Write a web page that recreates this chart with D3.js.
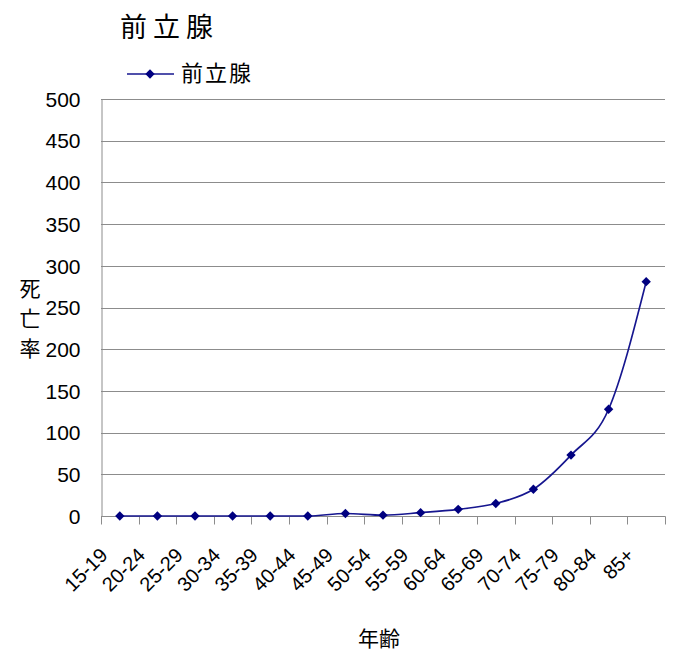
<!DOCTYPE html>
<html>
<head>
<meta charset="utf-8">
<script src="https://cdn.jsdelivr.net/npm/d3@7/dist/d3.min.js"></script>
<style>
  html, body { margin: 0; padding: 0; background: #fff; }
  svg { display: block; }
  text { font-family: Arial, "Liberation Sans", "Noto Sans CJK JP", sans-serif; fill: #000; }
  .cjk { font-family: "Noto Sans CJK JP", "Noto Sans CJK SC", sans-serif; }
</style>
</head>
<body>
<script>
// Prostate cancer death rate by age group
const title = "前立腺";
const seriesName = "前立腺";
const ageGroups = ["15-19", "20-24", "25-29", "30-34", "35-39", "40-44", "45-49",
  "50-54", "55-59", "60-64", "65-69", "70-74", "75-79", "80-84", "85+"];
const deathRates = [0, 0, 0, 0, 0, 0, 3, 1, 4, 8, 15, 32, 73, 128, 281];
const yTicks = [0, 50, 100, 150, 200, 250, 300, 350, 400, 450, 500];
const yLabel = ["死", "亡", "率"];
const xLabel = "年齢";

const W = 677, H = 651;
const plot = { left: 101, right: 665, top: 99, bottom: 516 };

const svg = d3.select("body").append("svg").attr("width", W).attr("height", H);

const x = d3.scaleBand().domain(ageGroups).range([plot.left, plot.right]).padding(0);
const y = d3.scaleLinear().domain([0, 500]).range([plot.bottom, plot.top]);

const grey = "#8c8c8c";
const navy = "#000080";

// horizontal gridlines
svg.append("g").selectAll("line").data(yTicks.filter(d => d > 0)).join("line")
  .attr("x1", plot.left).attr("x2", plot.right)
  .attr("y1", d => Math.round(y(d)) + 0.5).attr("y2", d => Math.round(y(d)) + 0.5)
  .attr("stroke", grey).attr("stroke-width", 1);

// y axis
const yAxis = d3.axisLeft(y).tickValues(yTicks).tickSize(0).tickPadding(21);
const gy = svg.append("g").attr("transform", `translate(${plot.left + 0.5},0.5)`).call(yAxis);
gy.select(".domain").attr("stroke", grey);
gy.selectAll("text").attr("font-size", 21).attr("fill", "#000");

// x axis with ticks at band boundaries
const gx = svg.append("g").attr("transform", `translate(0,${plot.bottom + 0.5})`);
gx.append("line").attr("x1", plot.left).attr("x2", plot.right + 0.5)
  .attr("stroke", grey);
const bounds = ageGroups.map(d => x(d)).concat([plot.right]);
gx.selectAll("line.tick").data(bounds).join("line").attr("class", "tick")
  .attr("x1", d => Math.round(d) + 0.5).attr("x2", d => Math.round(d) + 0.5)
  .attr("y1", 0).attr("y2", 8).attr("stroke", grey);
gx.selectAll("text").data(ageGroups).join("text")
  .attr("transform", d => `translate(${x(d) + x.bandwidth() / 2 - 11},${40}) rotate(-45)`)
  .attr("text-anchor", "end")
  .attr("font-size", 20).text(d => d);

// data line (smoothed)
const cx = d => x(d) + x.bandwidth() / 2;
const line = d3.line()
  .x((d, i) => cx(ageGroups[i]))
  .y(d => y(d))
  .curve(d3.curveMonotoneX);
svg.append("path").datum(deathRates).attr("d", line)
  .attr("fill", "none").attr("stroke", "#16168f").attr("stroke-width", 1.7);

const marker = d3.symbol(d3.symbolSquare, 44);
svg.append("g").selectAll("path").data(deathRates).join("path")
  .attr("transform", (d, i) => `translate(${cx(ageGroups[i])},${y(d)}) rotate(45)`)
  .attr("d", marker)
  .attr("fill", navy);

// title
svg.append("text").attr("class", "cjk").attr("x", 120).attr("y", 37)
  .attr("font-size", 27).attr("letter-spacing", 6).text(title);

// legend
svg.append("line").attr("x1", 127).attr("x2", 174).attr("y1", 74).attr("y2", 74)
  .attr("stroke", "#16168f").attr("stroke-width", 1.7);
svg.append("path").attr("transform", "translate(150,74) rotate(45)")
  .attr("d", marker).attr("fill", navy);
svg.append("text").attr("class", "cjk").attr("x", 181).attr("y", 81)
  .attr("font-size", 22).attr("letter-spacing", 2).text(seriesName);

// y axis label, stacked vertically
svg.append("g").selectAll("text").data(yLabel).join("text")
  .attr("class", "cjk").attr("x", 30).attr("y", (d, i) => 296 + i * 30)
  .attr("text-anchor", "middle").attr("font-size", 21).text(d => d);

// x axis label
svg.append("text").attr("class", "cjk").attr("x", 379).attr("y", 646)
  .attr("text-anchor", "middle").attr("font-size", 21).text(xLabel);
</script>
</body>
</html>
